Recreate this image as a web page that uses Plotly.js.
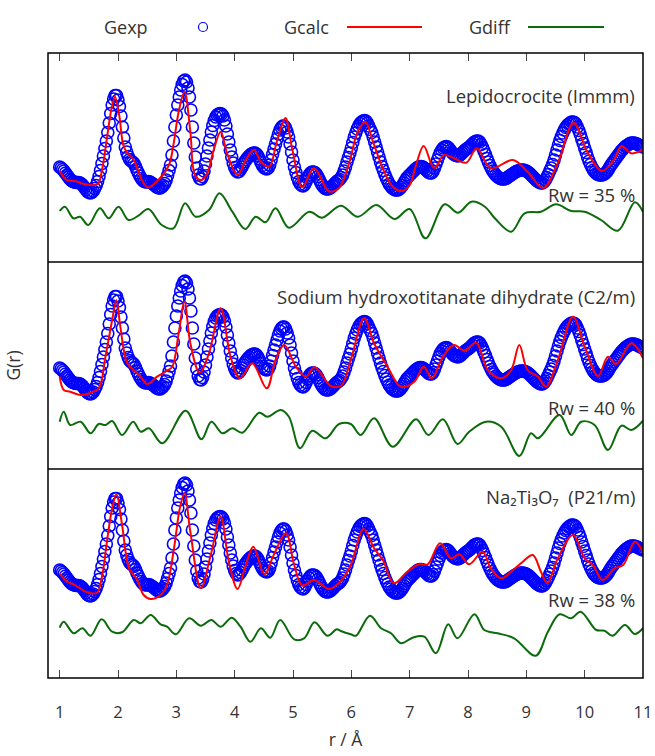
<!DOCTYPE html>
<html><head><meta charset="utf-8">
<script src="https://cdn.plot.ly/plotly-3.0.1.min.js"></script>
<style>html,body{margin:0;padding:0;background:#fff}#chart{width:655px;height:756px}</style>
</head><body><div id="chart"></div>
<script>
// ---- experimental PDF (same measured data in all three panels), r from 1.0 step 0.025 ----
const rStart = 1.0;
const rStep = 0.025;
const gexp = [
-0.7,-0.8,-0.95,-1.1,-1.3,-1.5,-1.7,-1.9,-2.05,-2.15,-2.2,-2.25,-2.25,-2.25,-2.3,-2.4,-2.55,-2.75,-2.95,-3.15,
-3.25,-3.3,-3.25,-3.1,-2.85,-2.55,-2.15,-1.65,-1.05,-0.35,0.4,1.15,1.9,2.75,3.7,4.65,5.5,6.1,6.45,6.45,
6.0,5.35,4.4,3.3,2.2,1.3,0.8,0.35,0.05,-0.1,-0.2,-0.35,-0.65,-1.0,-1.3,-1.6,-1.85,-2.05,-2.15,-2.2,
-2.2,-2.15,-2.2,-2.3,-2.4,-2.5,-2.65,-2.75,-2.8,-2.8,-2.7,-2.55,-2.35,-2.0,-1.55,-1.05,-0.5,0.5,1.9,3.3,
4.5,5.5,6.3,7.0,7.55,7.9,8.0,7.8,7.2,6.3,5.0,3.3,1.7,0.3,-0.8,-1.5,-1.85,-1.9,-1.65,-1.1,
-0.4,0.4,1.2,2.0,2.8,3.45,3.95,4.3,4.5,4.6,4.65,4.6,4.4,4.0,3.4,2.6,1.8,1.0,0.3,-0.3,
-0.75,-1.05,-1.2,-1.15,-0.95,-0.7,-0.4,-0.15,0.05,0.25,0.4,0.55,0.65,0.7,0.7,0.6,0.4,0.1,-0.25,-0.55,
-0.75,-0.85,-0.9,-0.8,-0.5,0.0,0.55,1.1,1.6,2.1,2.6,3.0,3.25,3.4,3.4,3.2,2.8,2.3,1.6,0.8,
0.0,-0.7,-1.25,-1.75,-2.15,-2.4,-2.55,-2.6,-2.45,-2.15,-1.8,-1.5,-1.3,-1.2,-1.2,-1.25,-1.4,-1.65,-1.95,-2.25,
-2.5,-2.7,-2.85,-2.9,-2.9,-2.85,-2.75,-2.6,-2.45,-2.3,-2.15,-2.05,-1.95,-1.75,-1.5,-1.1,-0.7,-0.2,0.25,0.7,
1.2,1.75,2.3,2.7,3.1,3.4,3.65,3.8,3.9,3.95,3.9,3.7,3.4,3.05,2.75,2.3,1.8,1.3,0.8,0.3,
-0.2,-0.65,-1.05,-1.45,-1.8,-2.1,-2.4,-2.6,-2.8,-2.9,-3.0,-3.0,-3.0,-2.9,-2.75,-2.55,-2.3,-2.05,-1.8,-1.65,
-1.5,-1.35,-1.2,-1.05,-0.9,-0.8,-0.7,-0.65,-0.65,-0.7,-0.8,-0.95,-1.1,-1.25,-1.3,-1.3,-1.15,-0.8,-0.4,0.0,
0.4,0.75,1.0,1.2,1.3,1.35,1.3,1.15,0.95,0.75,0.6,0.5,0.45,0.4,0.45,0.55,0.7,0.85,1.0,1.1,
1.2,1.3,1.45,1.6,1.75,1.85,1.9,1.9,1.8,1.55,1.25,0.9,0.55,0.15,-0.2,-0.55,-0.85,-1.1,-1.3,-1.5,
-1.65,-1.75,-1.85,-1.9,-1.9,-1.9,-1.85,-1.75,-1.65,-1.55,-1.45,-1.35,-1.25,-1.15,-1.1,-1.05,-1.0,-1.0,-1.0,-1.05,
-1.1,-1.2,-1.3,-1.45,-1.6,-1.75,-1.9,-2.05,-2.15,-2.25,-2.3,-2.3,-2.2,-2.0,-1.75,-1.45,-1.1,-0.8,-0.45,0.0,
0.5,1.0,1.5,1.95,2.35,2.7,3.0,3.25,3.45,3.6,3.7,3.8,3.8,3.75,3.6,3.3,2.95,2.55,2.1,1.65,
1.2,0.75,0.3,-0.1,-0.45,-0.75,-1.0,-1.2,-1.35,-1.45,-1.5,-1.5,-1.5,-1.45,-1.35,-1.2,-1.0,-0.75,-0.5,-0.3,
-0.1,0.1,0.3,0.5,0.7,0.9,1.05,1.2,1.35,1.45,1.55,1.65,1.7,1.7,1.7,1.65,1.6,1.5,1.45,1.35,
1.3];

// ---- panel 1: Lepidocrocite ----
const rCalc1 = [1.0,1.12,1.26,1.44,1.65,1.72,1.81,1.89,1.95,2.02,2.09,2.15,2.27,2.41,2.51,2.69,2.87,2.95,3.04,3.14,3.24,3.32,3.43,3.53,3.64,3.76,3.87,4.05,4.19,4.33,4.45,4.59,4.73,4.87,4.99,5.16,5.36,5.62,5.79,5.85,5.97,6.11,6.24,6.37,6.54,6.71,6.87,7.0,7.11,7.24,7.42,7.59,7.76,7.97,8.15,8.39,8.77,9.02,9.29,9.54,9.81,10.05,10.3,10.51,10.63,10.8,11.0];
const gCalc1 = [-1.1,-2.0,-2.1,-2.43,-2.43,-1.17,2.17,5.17,6.33,4.5,1.5,0.77,0.0,-2.0,-2.75,-2.0,-0.55,1.5,4.83,6.83,2.83,-1.5,-2.0,-1.33,1.0,2.83,0.67,-1.5,0.0,1.0,-0.17,-0.67,2.0,4.2,1.0,-2.7,-0.83,-3.15,-2.8,-2.2,-0.17,2.83,3.83,1.83,-0.83,-2.67,-3.1,-2.5,-0.5,1.4,-0.8,0.5,0.17,-0.27,1.17,-0.83,0.0,-1.17,-2.8,-0.3,3.7,0.75,-1.1,0.1,1.4,0.67,1.0];
const rDiff1 = [1.0,1.09,1.235,1.35,1.49,1.69,1.84,2.01,2.18,2.35,2.52,2.75,2.95,3.15,3.33,3.56,3.74,3.96,4.18,4.36,4.53,4.7,4.93,5.28,5.5,5.82,6.11,6.43,6.74,7.0,7.27,7.6,7.83,8.06,8.29,8.46,8.74,8.97,9.25,9.51,9.77,10.0,10.28,10.57,10.86,11.0];
const gDiff1 = [-5.1,-4.67,-5.83,-5.67,-6.5,-4.83,-5.83,-4.67,-6.0,-5.57,-4.9,-6.5,-6.83,-4.33,-5.67,-5.0,-3.33,-5.17,-6.9,-5.67,-6.23,-4.83,-6.77,-5.17,-5.77,-4.57,-5.67,-4.5,-5.9,-4.9,-7.83,-4.43,-5.27,-4.17,-4.67,-5.83,-7.17,-5.33,-5.17,-4.43,-5.1,-5.17,-6.0,-7.07,-4.23,-5.17];

// ---- panel 2: Sodium hydroxotitanate dihydrate ----
const rCalc2 = [1.0,1.07,1.18,1.36,1.53,1.67,1.785,1.9,1.973,2.04,2.16,2.3,2.39,2.5,2.67,2.84,2.93,3.04,3.14,3.24,3.4,3.56,3.76,3.93,4.09,4.3,4.55,4.7,4.85,5.05,5.22,5.37,5.65,5.82,5.99,6.22,6.39,6.62,6.85,7.08,7.24,7.38,7.57,7.76,7.94,8.14,8.34,8.57,8.74,8.88,9.02,9.2,9.34,9.54,9.8,10.0,10.23,10.4,10.54,10.8,11.0];
const gCalc2 = [-1.57,-2.9,-3.07,-3.4,-3.17,-2.73,0.43,4.1,6.1,3.43,-0.23,-1.07,-1.57,-2.3,-1.57,-0.97,-0.57,2.77,5.93,1.77,-1.17,0.77,5.27,0.43,-1.73,-0.23,-2.73,0.1,1.6,-0.57,-1.57,-0.63,-2.5,-2.5,0.1,4.27,1.77,-0.57,-2.57,-2.07,-0.57,-1.73,0.43,1.6,1.03,1.83,-0.9,-1.73,-0.9,1.6,-0.9,-1.57,-2.57,0.1,4.43,1.43,-1.5,0.43,-0.3,1.77,0.27];
const rDiff2 = [1.0,1.07,1.18,1.36,1.53,1.67,1.785,1.9,2.07,2.26,2.39,2.53,2.76,3.16,3.43,3.6,3.79,3.96,4.13,4.42,4.56,4.79,4.93,5.12,5.33,5.56,5.79,5.99,6.16,6.39,6.71,7.11,7.32,7.57,7.82,8.02,8.31,8.57,8.88,9.08,9.2,9.57,9.77,9.94,10.17,10.4,10.63,10.8,11.0];
const gDiff2 = [-6.07,-5.07,-6.4,-6.07,-7.23,-6.3,-6.4,-6.0,-7.4,-6.07,-7.07,-6.73,-8.23,-4.97,-7.83,-6.07,-7.23,-6.73,-7.17,-5.17,-5.57,-4.9,-5.57,-8.73,-6.97,-7.73,-6.3,-6.3,-7.4,-5.73,-8.57,-5.83,-7.4,-5.83,-8.3,-7.07,-6.07,-6.57,-9.5,-7.23,-7.73,-5.4,-7.4,-6.07,-6.4,-8.9,-6.47,-6.9,-5.97];

// ---- panel 3: Na2Ti3O7 ----
const rCalc3 = [1.0,1.13,1.24,1.47,1.64,1.73,1.81,1.9,1.973,2.07,2.19,2.33,2.44,2.56,2.73,2.84,2.96,3.06,3.14,3.24,3.42,3.59,3.76,3.9,4.05,4.19,4.32,4.51,4.67,4.88,5.02,5.16,5.36,5.62,5.82,5.99,6.21,6.39,6.54,6.73,6.96,7.16,7.31,7.52,7.71,7.85,8.02,8.25,8.39,8.57,8.77,8.94,9.11,9.25,9.36,9.54,9.8,10.0,10.14,10.31,10.51,10.66,10.86,11.0];
const gCalc3 = [-1.03,-1.87,-2.13,-2.93,-2.97,-1.2,2.13,5.47,6.87,3.8,-0.53,-1.7,-3.2,-3.6,-3.2,-2.2,1.47,5.47,6.97,3.13,-2.53,0.8,4.63,0.13,-2.6,-0.2,1.63,-1.13,0.8,2.97,-0.2,-2.27,-1.7,-2.6,-1.8,-0.2,3.4,1.47,0.3,-2.03,-0.87,-0.13,-0.13,1.97,0.47,0.87,-0.13,1.13,-0.53,-1.53,-0.7,0.13,0.8,-0.87,-2.03,0.47,2.8,0.47,-0.2,-1.7,-0.53,-0.2,2.13,1.07];
const rDiff3 = [1.0,1.07,1.24,1.39,1.53,1.72,1.9,2.07,2.27,2.39,2.56,2.73,2.84,2.99,3.22,3.42,3.6,3.76,3.95,4.1,4.27,4.45,4.61,4.78,5.02,5.19,5.37,5.59,5.75,5.82,5.99,6.08,6.32,6.51,6.68,6.85,7.05,7.25,7.45,7.66,7.82,8.11,8.28,8.51,8.79,9.16,9.37,9.57,9.77,9.93,10.2,10.34,10.48,10.69,10.86,11.0];
const gDiff3 = [-6.47,-5.87,-7.03,-6.53,-7.27,-5.63,-6.87,-6.93,-5.7,-6.03,-5.2,-6.13,-6.37,-7.13,-5.53,-6.27,-5.7,-6.37,-5.47,-6.37,-7.87,-6.53,-7.47,-5.7,-7.63,-7.53,-5.93,-7.27,-6.63,-6.8,-7.13,-7.27,-5.27,-6.53,-7.03,-8.03,-7.47,-7.37,-9.03,-6.13,-7.53,-5.13,-6.7,-7.03,-7.53,-9.27,-6.87,-5.13,-5.53,-4.87,-6.7,-6.77,-7.27,-6.2,-7.1,-6.53];

const panelLabels = ['Lepidocrocite (Immm)', 'Sodium hydroxotitanate dihydrate (C2/m)', 'Na\u2082Ti\u2083O\u2087\u00a0\u00a0(P21/m)'];
const rwLabels = ['Rw = 35 %', 'Rw = 40 %', 'Rw = 38 %'];
const seriesNames = ['Gexp', 'Gcalc', 'Gdiff'];
const xTicks = [1,2,3,4,5,6,7,8,9,10,11];

// ---- build ----
const FONT = 'Open Sans, Noto Sans, sans-serif';
const TXT = '#333333';
const BLUE = '#0000ff', RED = '#ff0000', GREEN = '#0b6b0b';
const calcR = [rCalc1, rCalc2, rCalc3], calcG = [gCalc1, gCalc2, gCalc3];
const diffR = [rDiff1, rDiff2, rDiff3], diffG = [gDiff1, gDiff2, gDiff3];
const xa = ['x2', 'x3', 'x'], ya = ['y', 'y2', 'y3'];

const traces = [];
for (let p = 0; p < 3; p++) {
  traces.push({type:'scatter', mode:'markers', name:seriesNames[0], x0:rStart, dx:rStep, y:gexp,
    xaxis:xa[p], yaxis:ya[p], showlegend:false,
    marker:{symbol:'circle-open', size:12, color:BLUE, line:{width:1.6, color:BLUE}}});
  traces.push({type:'scatter', mode:'lines', name:seriesNames[1], x:calcR[p], y:calcG[p],
    xaxis:xa[p], yaxis:ya[p], showlegend:false,
    line:{color:RED, width:2, shape:'spline', smoothing:1}});
  traces.push({type:'scatter', mode:'lines', name:seriesNames[2], x:diffR[p], y:diffG[p],
    xaxis:xa[p], yaxis:ya[p], showlegend:false,
    line:{color:GREEN, width:2, shape:'spline', smoothing:1}});
}

const yBase = {showticklabels:false, ticks:'', showgrid:false, zeroline:false, showline:false, fixedrange:true};
const LBL = 18.5;
const layout = {
  width:655, height:756,
  margin:{l:48, r:12, t:53, b:78},
  paper_bgcolor:'#ffffff', plot_bgcolor:'#ffffff',
  font:{family:FONT, color:TXT, size:16},
  showlegend:false,
  xaxis:{domain:[0,1], anchor:'y3', range:[0.8,11], tickvals:xTicks, ticks:'inside', ticklen:8, tickwidth:1, tickcolor:'#444',
    showgrid:false, zeroline:false, showline:false, tickfont:{size:16.5, color:TXT}, ticklabelstandoff:22,
    title:{text:'r / Å', font:{size:17.5, color:TXT}, standoff:12}},
  xaxis2:{matches:'x', anchor:'y', side:'top', tickvals:xTicks, ticks:'inside', ticklen:8, tickwidth:1, tickcolor:'#444',
    showticklabels:false, showgrid:false, zeroline:false, showline:false},
  xaxis3:{matches:'x', anchor:'y2', ticks:'', showticklabels:false, showgrid:false, zeroline:false, showline:false},
  yaxis:Object.assign({domain:[0.6656,1], range:[-10.2,10.7]}, yBase),
  yaxis2:Object.assign({domain:[0.3344,0.6656], range:[-10.8,9.9],
    title:{text:'G(r)', font:{size:17.5, color:TXT}, standoff:21}}, yBase),
  yaxis3:Object.assign({domain:[0,0.3344], range:[-11.5,9.4]}, yBase),
  shapes:[
    {type:'rect', xref:'paper', yref:'paper', x0:0, x1:1, y0:0, y1:1, line:{color:'#000', width:1.5}, layer:'above'},
    {type:'line', xref:'paper', yref:'paper', x0:0, x1:1, y0:0.6656, y1:0.6656, line:{color:'#000', width:1.5}, layer:'above'},
    {type:'line', xref:'paper', yref:'paper', x0:0, x1:1, y0:0.3344, y1:0.3344, line:{color:'#000', width:1.5}, layer:'above'},
    // legend samples
    {type:'circle', xref:'paper', yref:'paper', x0:0.2529, x1:0.2681, y0:1.0344, y1:1.0488, line:{color:BLUE, width:1.2}},
    {type:'line', xref:'paper', yref:'paper', x0:0.5025, x1:0.6286, y0:1.0416, y1:1.0416, line:{color:RED, width:2}},
    {type:'line', xref:'paper', yref:'paper', x0:0.8067, x1:0.9345, y0:1.0416, y1:1.0416, line:{color:GREEN, width:2}}
  ],
  annotations:[
    {xref:'paper', yref:'paper', x:0.1714, y:1.0416, xanchor:'right', yanchor:'middle', text:seriesNames[0], showarrow:false, font:{size:18, color:TXT}},
    {xref:'paper', yref:'paper', x:0.4756, y:1.0416, xanchor:'right', yanchor:'middle', text:seriesNames[1], showarrow:false, font:{size:18, color:TXT}},
    {xref:'paper', yref:'paper', x:0.7815, y:1.0416, xanchor:'right', yanchor:'middle', text:seriesNames[2], showarrow:false, font:{size:18, color:TXT}},
    {xref:'paper', yref:'paper', x:0.99, y:0.9328, xanchor:'right', yanchor:'middle', text:panelLabels[0], showarrow:false, font:{size:LBL, color:TXT}},
    {xref:'paper', yref:'paper', x:0.99, y:0.7728, xanchor:'right', yanchor:'middle', text:rwLabels[0], showarrow:false, font:{size:LBL, color:TXT}},
    {xref:'paper', yref:'paper', x:0.99, y:0.6112, xanchor:'right', yanchor:'middle', text:panelLabels[1], showarrow:false, font:{size:LBL, color:TXT}},
    {xref:'paper', yref:'paper', x:0.99, y:0.4336, xanchor:'right', yanchor:'middle', text:rwLabels[1], showarrow:false, font:{size:LBL, color:TXT}},
    {xref:'paper', yref:'paper', x:0.99, y:0.2896, xanchor:'right', yanchor:'middle', text:panelLabels[2], showarrow:false, font:{size:LBL, color:TXT}},
    {xref:'paper', yref:'paper', x:0.99, y:0.1264, xanchor:'right', yanchor:'middle', text:rwLabels[2], showarrow:false, font:{size:LBL, color:TXT}}
  ]
};

Plotly.newPlot('chart', traces, layout, {staticPlot:true, displayModeBar:false});
</script>
</body></html>
